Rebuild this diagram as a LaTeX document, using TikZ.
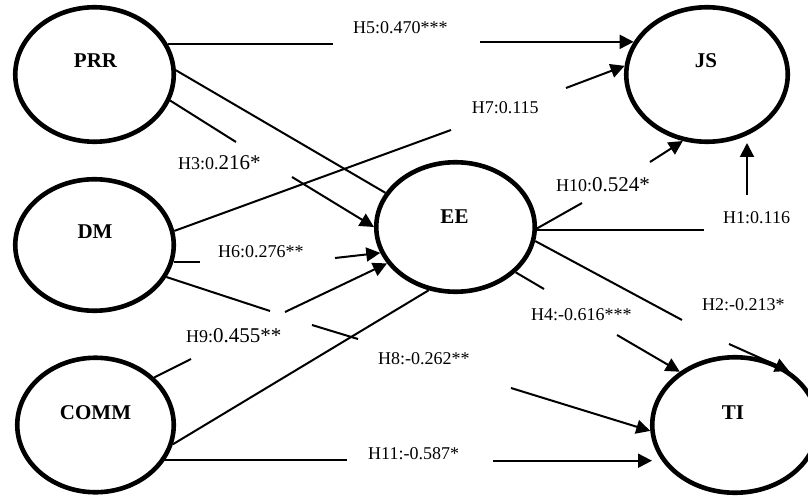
\documentclass[tikz,border=0pt]{standalone}
\usepackage{fontspec}
\setmainfont{Liberation Serif}
\usetikzlibrary{arrows.meta,shapes.geometric}
% larger digits inside some path coefficients
\newcommand{\coefbig}[1]{{\fontsize{21}{24}\selectfont #1}}
\begin{document}
\begin{tikzpicture}[x=1pt,y=-1pt,
  construct/.style={draw, line width=4.6pt, ellipse, inner sep=0pt},
  cname/.style={font=\fontsize{21}{24}\selectfont\bfseries, anchor=base, inner sep=0pt},
  link/.style={line width=2pt},
  arr/.style={link, -{Triangle[length=14pt,width=14pt]}},
  coef/.style={font=\fontsize{18}{21}\selectfont, anchor=base west, inner sep=0pt},
]
\useasboundingbox (0,0) rectangle (808,497);

% latent constructs
\node[construct, minimum width=158.5pt, minimum height=134.5pt] (PRR)  at (94.5,74.5) {};
\node[construct, minimum width=158.5pt, minimum height=131.5pt] (DM)   at (94.5,245) {};
\node[construct, minimum width=156.5pt, minimum height=134.5pt] (COMM) at (95.5,425) {};
\node[construct, minimum width=158.5pt, minimum height=129.5pt] (EE)   at (455.5,227) {};
\node[construct, minimum width=161.5pt, minimum height=134.5pt] (JS)   at (707,74.5) {};
\node[construct, minimum width=165.5pt, minimum height=135.5pt] (TI)   at (735,425) {};

\node[cname] (PRRt)  at (95.5,68)  {PRR};
\node[cname] (DMt)   at (95,238)   {DM};
\node[cname] (COMMt) at (95.5,419) {COMM};
\node[cname] (EEt)   at (454.5,223){EE};
\node[cname] (JSt)   at (706,68)   {JS};
\node[cname] (TIt)   at (733,419)  {TI};

% break points of the paths around their coefficients
\coordinate (h5a) at (333,0);
\coordinate (h5b) at (480,0);
\coordinate (h7a) at (451,130);
\coordinate (h7b) at (566,88);
\coordinate (h3a) at (236,142);
\coordinate (h3b) at (292,177);
\coordinate (h6a) at (200,0);
\coordinate (h6b) at (335,258);
\coordinate (h9a) at (191,359);
\coordinate (h9b) at (285,312);
\coordinate (h8a) at (270,311);
\coordinate (h8b) at (312,325);
\coordinate (h8c) at (358,339);
\coordinate (h8d) at (511,388);
\coordinate (h11a) at (347,0);
\coordinate (h11b) at (493,460.7);
\coordinate (h11t) at (652,460.7);
\coordinate (h10a) at (582,203);
\coordinate (h10b) at (650,162);
\coordinate (h1a) at (704,0);
\coordinate (h1b) at (747,195);
\coordinate (h1t) at (747,143);
\coordinate (h4a) at (544,289);
\coordinate (h4b) at (617,335);
\coordinate (h2a) at (682,320);
\coordinate (h2b) at (729,344);

% H5: PRR -> JS
\draw[link] (PRR.23.7) -- (PRR.23.7 -| h5a);
\draw[arr] (JS.156.7 -| h5b) -- (JS.156.7);
% H7: DM -> JS
\draw[link] (DM.10.8) -- (h7a);
\draw[arr] (h7b) -- (JS.174.8);
% H3: PRR -> EE
\draw[link] (PRR.-19.7) -- (h3a);
\draw[arr] (h3b) -- (EE.180.7);
% PRR -- EE
\draw[link] (PRR.3.7) -- (EE.154.9);
% H6: DM -> EE
\draw[link] (DM.-12.7) -- (DM.-12.7 -| h6a);
\draw[arr] (h6b) -- (EE.199.1);
% H9: COMM -> EE
\draw[link] (COMM.39.6) -- (h9a);
\draw[arr] (h9b) -- (EE.208.3);
% H8: DM -> TI
\draw[link] (DM.-24.2) -- (h8a);
\draw[link] (h8b) -- (h8c);
\draw[arr] (h8d) -- (TI.184.8);
% COMM -- EE
\draw[link] (COMM.-14) -- (EE.247.6);
% H11: COMM -> TI
\draw[link] (COMM.-27.3) -- (COMM.-27.3 -| h11a);
\draw[arr] (h11b) -- (h11t);
% H10: EE -> JS
\draw[link] (EE.-1) -- (h10a);
\draw[arr] (h10b) -- (JS.250.7);
% H1: EE -> JS
\draw[link] (EE.-2.1) -- (EE.-2.1 -| h1a);
\draw[arr] (h1b) -- (h1t);
% H4: EE -> TI
\draw[link] (EE.-37.1) -- (h4a);
\draw[arr] (h4b) -- (TI.136.6);
% H2: EE -> TI
\draw[link] (EE.-10.4) -- (h2a);
\draw[arr] (h2b) -- (TI.45.6);

% path coefficients
\node[coef] (c5)  at (353,34)    {H5:0.470***};
\node[coef] (c3)  at (178,169.3) {H3:0.\coefbig{216*}};
\node[coef] (c7)  at (471.7,114) {H7:0.115};
\node[coef] (c6)  at (218,257)   {H6:0.276**};
\node[coef] (c9)  at (186,342)   {H9:\coefbig{0.455**}};
\node[coef] (c8)  at (378,364)   {H8:-0.262**};
\node[coef] (c11) at (368,459)   {H11:-0.587*};
\node[coef] (c10) at (556,192)   {H10:\coefbig{0.524*}};
\node[coef] (c1)  at (723,223)   {H1:0.116};
\node[coef] (c4)  at (531,320)   {H4:-0.616***};
\node[coef] (c2)  at (702,310)   {H2:-0.213*};
\end{tikzpicture}
\end{document}
